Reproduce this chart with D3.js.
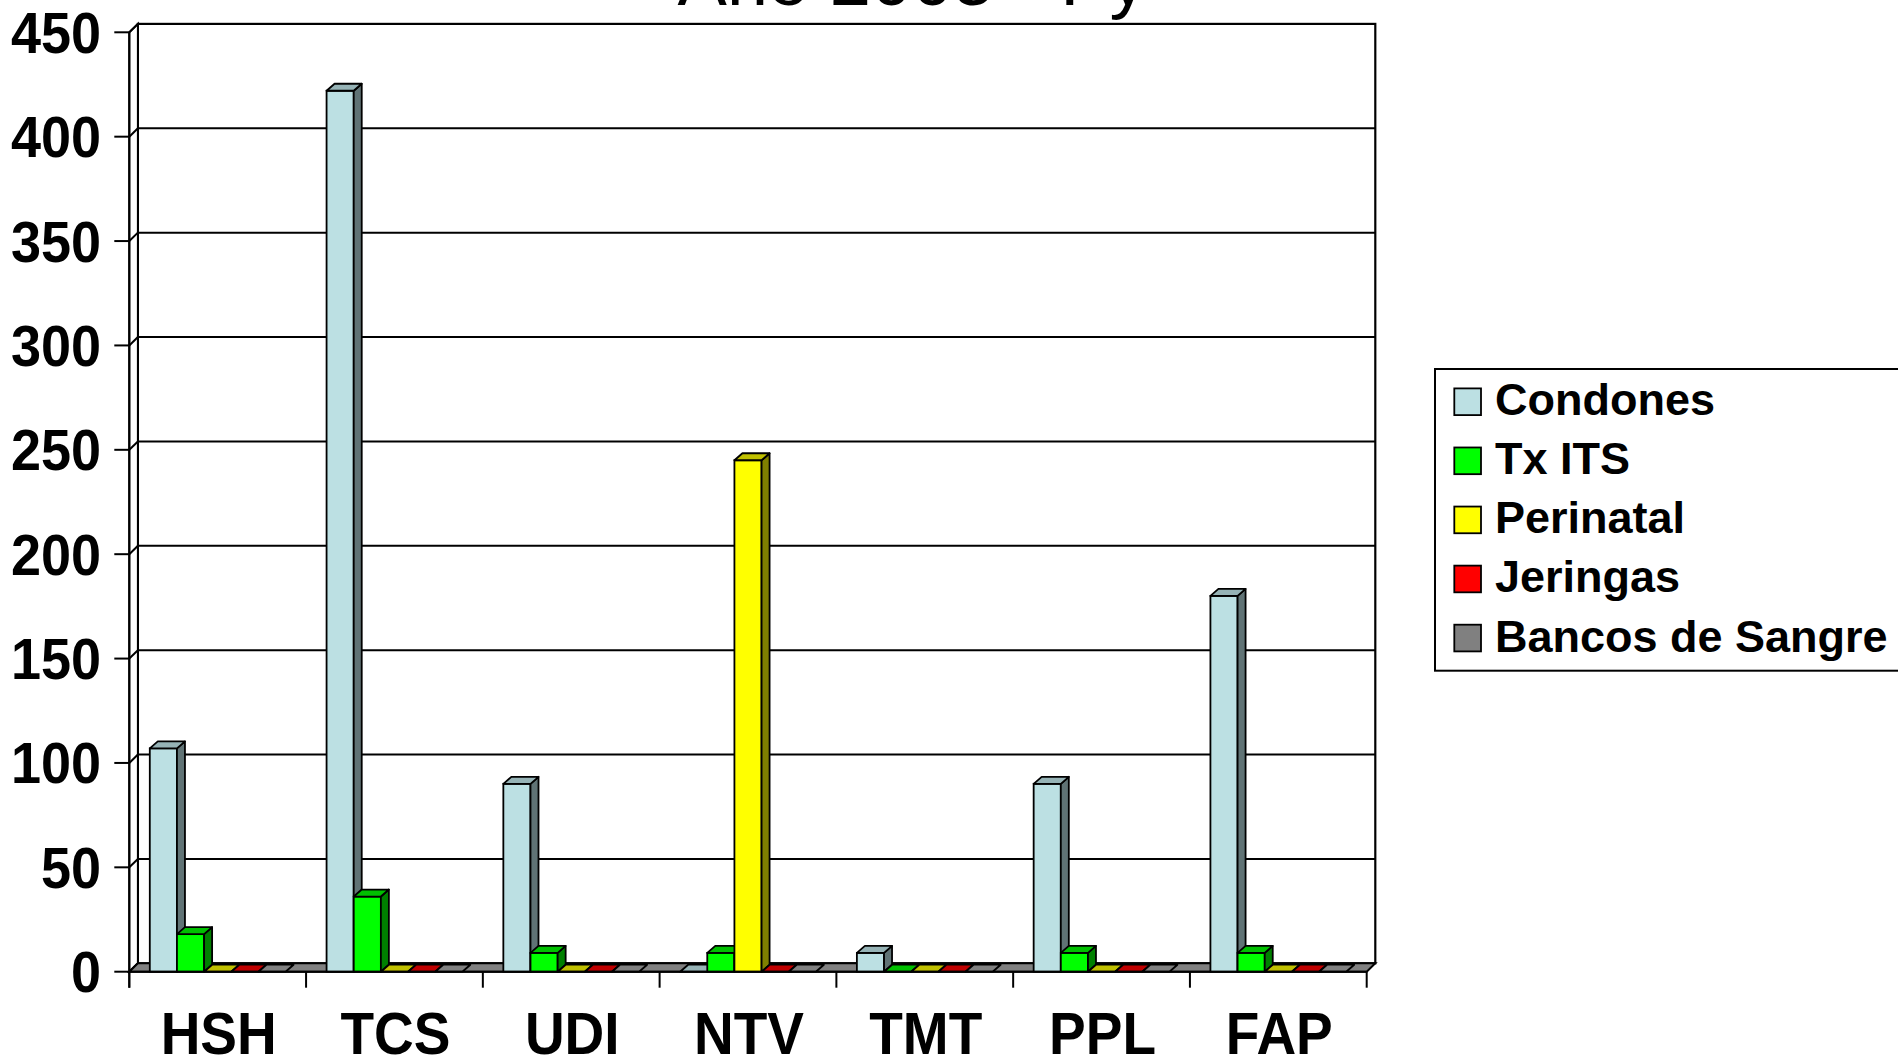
<!DOCTYPE html>
<html><head><meta charset="utf-8">
<script src="https://cdn.jsdelivr.net/npm/d3@7"></script>
<style>html,body{margin:0;padding:0;background:#fff;overflow:hidden}</style>
</head><body><svg id="chart" width="1898" height="1058"></svg>
<script>
// ---- data ----
const categories = ["HSH", "TCS", "UDI", "NTV", "TMT", "PPL", "FAP"];
const seriesNames = ["Condones", "Tx ITS", "Perinatal", "Jeringas", "Bancos de Sangre"];
const condones  = [107, 422, 90, 0, 9, 90, 180];
const txITS     = [18, 36, 9, 9, 0, 9, 9];
const perinatal = [0, 0, 0, 245, 0, 0, 0];
const jeringas  = [0, 0, 0, 0, 0, 0, 0];
const bancos    = [0, 0, 0, 0, 0, 0, 0];
const yTicks = [0, 50, 100, 150, 200, 250, 300, 350, 400, 450];
const titleText = "Año 2005 - Py";

const seriesValues = [condones, txITS, perinatal, jeringas, bancos];
const frontColors = ["#BCE0E3", "#00FF00", "#FFFF00", "#FF0000", "#808080"];
const sideColors  = ["#607375", "#008000", "#808000", "#800000", "#404040"];
const topColors   = ["#96B3B6", "#00C000", "#C0C000", "#C00000", "#808080"];

const svg = d3.select("#chart");
const font = "'Liberation Sans', Arial, Helvetica, sans-serif";

const plot = {left: 129.3, right: 1366.7, top: 32.3, bottom: 971.7};
const wDX = 8.6, wDY = -8.4;   // wall depth
const bDX = 8, bDY = -7;       // bar depth

const x = d3.scaleBand().domain(categories).range([plot.left, plot.right]).paddingInner(0).paddingOuter(0);
const xs = d3.scaleBand().domain(seriesNames).range([20.5, x.bandwidth() - 20.5]);
const y = d3.scaleLinear().domain([0, 450]).range([plot.bottom, plot.top]);

// back wall
svg.append("rect")
  .attr("x", plot.left + wDX).attr("y", y(450) + wDY)
  .attr("width", plot.right - plot.left).attr("height", y(0) - y(450))
  .attr("fill", "#fff").attr("stroke", "#000").attr("stroke-width", 2.2);

// gridlines on back wall
svg.append("g").selectAll("line").data(yTicks.filter(t => t > 0 && t < 450)).join("line")
  .attr("x1", plot.left + wDX).attr("x2", plot.right + wDX)
  .attr("y1", d => y(d) + wDY).attr("y2", d => y(d) + wDY)
  .attr("stroke", "#000").attr("stroke-width", 2);

// side wall
svg.append("polygon")
  .attr("points", [[plot.left, y(0)], [plot.left, y(450)], [plot.left + wDX, y(450) + wDY], [plot.left + wDX, y(0) + wDY]].join(" "))
  .attr("fill", "#fff").attr("stroke", "#000").attr("stroke-width", 2);
svg.append("g").selectAll("line").data(yTicks).join("line")
  .attr("x1", plot.left).attr("x2", plot.left + wDX)
  .attr("y1", d => y(d)).attr("y2", d => y(d) + wDY)
  .attr("stroke", "#000").attr("stroke-width", 2);

// floor
svg.append("polygon")
  .attr("points", [[plot.left, y(0)], [plot.right, y(0)], [plot.right + wDX, y(0) + wDY], [plot.left + wDX, y(0) + wDY]].join(" "))
  .attr("fill", "#808080").attr("stroke", "#000").attr("stroke-width", 2);

// bars
const barsG = svg.append("g");
categories.forEach((cat, ci) => {
  seriesNames.forEach((s, si) => {
    const v = seriesValues[si][ci];
    const x0 = x(cat) + xs(s), w = xs.bandwidth();
    const y0 = y(0), y1 = y(v);
    const g = barsG.append("g");
    if (v > 0) {
      g.append("rect").attr("x", x0).attr("y", y1).attr("width", w).attr("height", y0 - y1)
        .attr("fill", frontColors[si]).attr("stroke", "#000").attr("stroke-width", 1.8);
      g.append("polygon")
        .attr("points", [[x0 + w, y1], [x0 + w + bDX, y1 + bDY], [x0 + w + bDX, y0 + bDY], [x0 + w, y0]].join(" "))
        .attr("fill", sideColors[si]).attr("stroke", "#000").attr("stroke-width", 1.8).attr("stroke-linejoin", "round");
    }
    g.append("polygon")
      .attr("points", [[x0, y1], [x0 + bDX, y1 + bDY], [x0 + w + bDX, y1 + bDY], [x0 + w, y1]].join(" "))
      .attr("fill", topColors[si]).attr("stroke", "#000").attr("stroke-width", 1.8).attr("stroke-linejoin", "round");
  });
});

// front axes
svg.append("line").attr("x1", plot.left).attr("x2", plot.right).attr("y1", y(0)).attr("y2", y(0))
  .attr("stroke", "#000").attr("stroke-width", 2);
svg.append("line").attr("x1", plot.left).attr("x2", plot.left).attr("y1", y(0) + 16).attr("y2", y(450))
  .attr("stroke", "#000").attr("stroke-width", 2);

// y ticks + labels
const yAxisG = svg.append("g");
yAxisG.selectAll("line").data(yTicks).join("line")
  .attr("x1", plot.left - 15).attr("x2", plot.left).attr("y1", d => y(d)).attr("y2", d => y(d))
  .attr("stroke", "#000").attr("stroke-width", 2);
yAxisG.selectAll("text").data(yTicks).join("text")
  .attr("transform", d => `translate(101,${y(d)}) scale(1,1.06)`)
  .attr("dy", "0.358em").attr("text-anchor", "end")
  .attr("font-family", font).attr("font-weight", "bold").attr("font-size", 54)
  .text(d => d);

// x ticks + labels
const xBounds = categories.map(c => x(c)).concat([plot.right]);
svg.append("g").selectAll("line").data(xBounds).join("line")
  .attr("x1", d => d).attr("x2", d => d).attr("y1", y(0)).attr("y2", y(0) + 16)
  .attr("stroke", "#000").attr("stroke-width", 2);
svg.append("g").selectAll("text").data(categories).join("text")
  .attr("transform", d => `translate(${x(d) + x.bandwidth() / 2 + 1},1054) scale(1,1.08)`)
  .attr("text-anchor", "middle")
  .attr("font-family", font).attr("font-weight", "bold").attr("font-size", 55)
  .text(d => d);

// legend
const lg = svg.append("g");
lg.append("rect").attr("x", 1435).attr("y", 369).attr("width", 520).attr("height", 301.7)
  .attr("fill", "#fff").attr("stroke", "#000").attr("stroke-width", 2);
const legendY = d3.scalePoint().domain(seriesNames).range([401.7, 638]);
seriesNames.forEach((s, i) => {
  lg.append("rect").attr("x", 1454.3).attr("y", legendY(s) - 13.3).attr("width", 26.7).attr("height", 26.7)
    .attr("fill", frontColors[i]).attr("stroke", "#000").attr("stroke-width", 1.8);
  lg.append("text").attr("x", 1495).attr("y", legendY(s) + 13.5)
    .attr("font-family", font).attr("font-weight", "bold").attr("font-size", 45)
    .text(s);
});

// title (mostly cut off at top)
svg.append("text").attr("x", 912).attr("y", 5).attr("text-anchor", "middle")
  .attr("font-family", font).attr("font-size", 74).text(titleText);
</script>
</body></html>
